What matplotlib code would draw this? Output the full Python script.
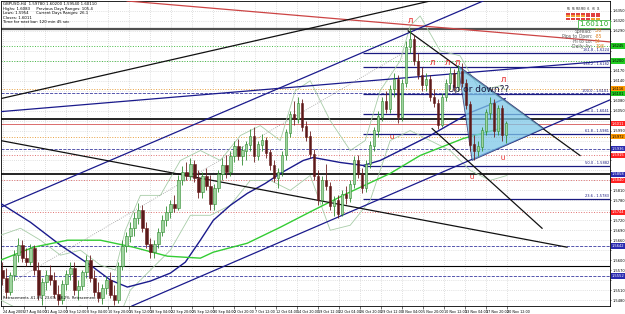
import numpy as np
import matplotlib
matplotlib.use("Agg")
import matplotlib.pyplot as plt
from matplotlib.patches import Polygon
from matplotlib.transforms import blended_transform_factory

# -------- candle data (H4 bars, price in 1e-4 units) --------
open_pts = [15570, 15546, 15504, 15555, 15615, 15645, 15606, 15594, 15636, 15570,
            15495, 15534, 15555, 15540, 15498, 15480, 15528, 15558, 15576, 15510,
            15522, 15564, 15600, 15546, 15504, 15486, 15516, 15540, 15495, 15480,
            15582, 15642, 15672, 15696, 15726, 15750, 15696, 15648, 15624, 15648,
            15684, 15720, 15744, 15768, 15756, 15840, 15864, 15852, 15888, 15846,
            15804, 15852, 15822, 15768, 15816, 15858, 15885, 15864, 15912, 15942,
            15912, 15930, 15948, 15972, 15912, 15948, 15960, 15924, 15885, 15846,
            15864, 15915, 15984, 16038, 16026, 16074, 16002, 15972, 15918, 15852,
            15780, 15840, 15822, 15762, 15780, 15738, 15798, 15786, 15828, 15900,
            15858, 15816, 15888, 15945, 15990, 16032, 16080, 16056, 16116, 16146,
            16032, 16134, 16242, 16266, 16200, 16158, 16128, 16146, 16092, 16074,
            16008, 16092, 16134, 16164, 16122, 16170, 16134, 16068, 15948, 15930,
            15942, 15990, 16044, 16074, 15990, 16056, 15978]
high_pts = [15594, 15576, 15564, 15630, 15666, 15660, 15636, 15648, 15645, 15594,
            15546, 15570, 15585, 15564, 15525, 15540, 15570, 15594, 15594, 15540,
            15570, 15615, 15615, 15570, 15534, 15528, 15552, 15564, 15525, 15594,
            15660, 15684, 15714, 15744, 15771, 15765, 15714, 15666, 15660, 15696,
            15735, 15762, 15780, 15795, 15855, 15882, 15894, 15906, 15900, 15870,
            15864, 15876, 15855, 15828, 15870, 15906, 15915, 15930, 15960, 15966,
            15945, 15960, 15996, 16002, 15960, 15981, 15972, 15936, 15900, 15876,
            15930, 15996, 16050, 16080, 16092, 16086, 16020, 15990, 15936, 15870,
            15852, 15888, 15834, 15792, 15795, 15810, 15822, 15840, 15912, 15915,
            15876, 15900, 15960, 16002, 16050, 16092, 16110, 16128, 16164, 16158,
            16146, 16260, 16296, 16278, 16224, 16182, 16164, 16158, 16116, 16086,
            16104, 16146, 16182, 16176, 16188, 16194, 16146, 16080, 15978, 15960,
            16002, 16056, 16092, 16086, 16068, 16068, 16020]
low_pts = [15525, 15486, 15495, 15540, 15594, 15594, 15582, 15585, 15555, 15480,
           15465, 15510, 15525, 15486, 15465, 15468, 15510, 15540, 15495, 15480,
           15510, 15546, 15534, 15492, 15474, 15468, 15498, 15486, 15465, 15471,
           15570, 15624, 15654, 15672, 15708, 15684, 15636, 15606, 15606, 15636,
           15672, 15702, 15726, 15744, 15750, 15825, 15840, 15840, 15834, 15786,
           15786, 15810, 15750, 15750, 15804, 15840, 15846, 15852, 15894, 15900,
           15885, 15900, 15930, 15894, 15900, 15930, 15906, 15870, 15834, 15816,
           15852, 15900, 15972, 16008, 16014, 15990, 15960, 15906, 15840, 15765,
           15768, 15810, 15750, 15732, 15726, 15732, 15768, 15774, 15816, 15846,
           15801, 15804, 15876, 15930, 15972, 16020, 16044, 16044, 16092, 16014,
           16020, 16122, 16224, 16188, 16146, 16110, 16110, 16080, 16062, 15996,
           16002, 16080, 16116, 16110, 16110, 16122, 16056, 15930, 15900, 15912,
           15930, 15978, 16026, 15972, 15978, 15960, 15954]
close_pts = [15546, 15504, 15555, 15615, 15645, 15606, 15594, 15636, 15570, 15495,
             15534, 15555, 15540, 15498, 15480, 15528, 15558, 15576, 15510, 15522,
             15564, 15600, 15546, 15504, 15486, 15516, 15540, 15495, 15480, 15582,
             15642, 15672, 15696, 15726, 15750, 15696, 15648, 15624, 15648, 15684,
             15720, 15744, 15768, 15756, 15840, 15864, 15852, 15888, 15846, 15804,
             15852, 15822, 15768, 15816, 15858, 15885, 15864, 15912, 15942, 15912,
             15930, 15948, 15972, 15912, 15948, 15960, 15924, 15885, 15846, 15864,
             15915, 15984, 16038, 16026, 16074, 16002, 15972, 15918, 15852, 15780,
             15840, 15822, 15762, 15780, 15738, 15798, 15786, 15828, 15900, 15858,
             15816, 15888, 15945, 15990, 16032, 16080, 16056, 16116, 16146, 16032,
             16134, 16242, 16266, 16200, 16158, 16128, 16146, 16092, 16074, 16008,
             16092, 16134, 16164, 16122, 16170, 16134, 16068, 15948, 15930, 15942,
             15990, 16044, 16074, 15990, 16056, 15978, 16011]

# -------- indicators (bar index, price) --------
ma_blue_bar = [-0.5, 7, 14.5, 22, 27, 31.25, 37, 42, 45.75, 49.5, 52.75, 57, 61.25,
               65.75, 69.5, 75.25, 77.75, 84.5, 90.25, 94.5, 99.5, 107, 117, 125.75]
ma_blue_val = [1.5771, 1.5714, 1.5645, 1.5585, 1.5540, 1.5519, 1.5537, 1.5561, 1.5594,
               1.5660, 1.5720, 1.5765, 1.5801, 1.5831, 1.5861, 1.5900, 1.5909, 1.5894,
               1.5885, 1.5900, 1.5930, 1.5975, 1.6044, 1.6086]
ma_green_bar = [-0.5, 7.75, 16.25, 24.5, 32.75, 41.25, 49.5, 52.75, 61.25, 69.5,
                77.75, 86.25, 97, 104.5, 115.25, 124.5]
ma_green_val = [1.5600, 1.5639, 1.5660, 1.5660, 1.5639, 1.5612, 1.5606, 1.5624, 1.5651,
                1.5699, 1.5750, 1.5801, 1.5861, 1.5915, 1.5966, 1.5996]
bb_up_bar = [-0.5, 4.5, 9.5, 14.5, 19.5, 24.5, 28.25, 30.75, 34.5, 39.5, 44.5, 49.5,
             54.5, 59.5, 64.5, 69.5, 73.25, 77, 82, 87, 90.75, 94.5, 99.5, 102, 104.5,
             109.5, 114.5, 119.5, 124.5, 126.25]
bb_up_val = [1.5675, 1.5696, 1.5660, 1.5615, 1.5630, 1.5585, 1.5570, 1.5690, 1.5795,
             1.5795, 1.5900, 1.5930, 1.5900, 1.5975, 1.6005, 1.5960, 1.6110, 1.6140,
             1.6020, 1.5930, 1.5960, 1.6110, 1.6200, 1.6305, 1.6335, 1.6230, 1.6215,
             1.6110, 1.6125, 1.6110]
bb_lo_bar = [-0.5, 4.5, 9.5, 14.5, 19.5, 24.5, 29.5, 32, 37, 42, 47, 52, 57, 62, 67,
             72, 77, 82, 87, 92, 97, 102, 107, 112, 117, 122, 126.25]
bb_lo_val = [1.5480, 1.5450, 1.5438, 1.5450, 1.5462, 1.5444, 1.5438, 1.5510, 1.5570,
             1.5630, 1.5735, 1.5735, 1.5765, 1.5840, 1.5840, 1.5810, 1.5855, 1.5690,
             1.5705, 1.5780, 1.5960, 1.5990, 1.5960, 1.5930, 1.5870, 1.5840, 1.5855]

# -------- drawn objects --------
# infinite trendlines: (bar1, price1, bar2, price2, colour, width)
rays = [
    (41, 1.6370, 146, 1.6263, "#cc4444", 0.9),
    (-0.5, 1.6086, 107, 1.6380, "#111111", 0.9),
    (-0.5, 1.6047, 145.75, 1.6194, "#1a1a8c", 0.9),
    (-0.5, 1.5759, 120.25, 1.6380, "#1a1a8c", 0.9),
    (27.75, 1.5438, 145.75, 1.6050, "#1a1a8c", 0.9),
]
segments = [
    (-0.5, 1.5960, 141.25, 1.5639, "#111111", 0.9, "-"),
    (101.5, 1.6290, 144.5, 1.5915, "#111111", 0.9, "-"),
    (107.5, 1.5996, 135, 1.5696, "#111111", 0.9, "-"),
    (2, 1.5531, 102, 1.6236, "#999999", 0.6, ":"),
]
triangle_bar = [114, 117.5, 135.5]
triangle_val = [1.6185, 1.5900, 1.5996]

# full width levels: price, colour, style, width
levels = [
    (1.6296, "#505050", "-", 1.6), (1.6245, "#44bb44", ":", 0.7),
    (1.6200, "#44bb44", ":", 0.7), (1.6116, "#e8a040", ":", 0.7),
    (1.6104, "#3a3aa0", "--", 0.6), (1.6026, "#000000", "-", 1.2),
    (1.6011, "#cc3333", "-", 0.5), (1.5972, "#e8a040", ":", 0.7),
    (1.5936, "#3a3aa0", "--", 0.6), (1.5915, "#e07070", ":", 0.7),
    (1.5858, "#000000", "-", 1.2), (1.5840, "#e07070", ":", 0.7),
    (1.5744, "#e07070", ":", 0.7), (1.5642, "#3a3aa0", "--", 0.6),
    (1.5582, "#000000", "-", 0.8), (1.5552, "#3a3aa0", "--", 0.6),
]
fib_start = 90.25
fib_vals = [1.6224, 1.6182, 1.6101, 1.6041, 1.5981, 1.5882, 1.5783]
fib_names = ["161.8", "138.2", "100.0", "76.4", "61.8", "50.0", "23.6"]

axis_boxes = [
    (1.6245, "#22cc22", "black"), (1.6200, "#22cc22", "black"),
    (1.6116, "#ff9900", "black"), (1.6101, "#22cc22", "black"),
    (1.6011, "#ff2020", "white"), (1.5972, "#ff9900", "black"),
    (1.5936, "#2a2ab0", "white"), (1.5915, "#ff2020", "white"),
    (1.5858, "#2a2ab0", "white"), (1.5840, "#ff2020", "white"),
    (1.5744, "#ff2020", "white"), (1.5642, "#2a2ab0", "white"),
    (1.5552, "#2a2ab0", "white"),
]

frac_up_bar = [102, 107.5, 111.25, 113.75, 125.25]
frac_up_val = [1.6320, 1.6194, 1.6194, 1.6194, 1.6143]
frac_dn_bar = [97.5, 117.5, 125.25]
frac_dn_val = [1.5969, 1.5849, 1.5906]

date_labels = ["24 Aug 2009", "27 Aug 04:00", "31 Aug 12:00", "3 Sep 12:00", "8 Sep 04:00",
               "10 Sep 20:00", "15 Sep 12:00", "18 Sep 04:00", "22 Sep 20:00", "25 Sep 12:00",
               "30 Sep 04:00", "2 Oct 20:00", "7 Oct 12:00", "12 Oct 04:00", "14 Oct 20:00",
               "19 Oct 12:00", "22 Oct 04:00", "26 Oct 20:00", "29 Oct 12:00", "3 Nov 04:00",
               "5 Nov 20:00", "10 Nov 12:00", "13 Nov 04:00", "17 Nov 20:00", "20 Nov 12:00"]

tf_names = ["M1", "M5", "M15", "M30", "H1", "H4", "D1"]
signal_rows = [
    ["#e04040"] * 7,
    ["#f0a030"] * 4 + ["#e04040"] * 3,
    ["#e04040"] * 5 + ["#f0a030"] * 2,
]

header_lines = [
    "GBPUSD,H4  1.59780 1.60200 1.59540 1.60110",
    "Highs: 1.6083     Previous Days Ranges: 105.4",
    "Lows: 1.5954      Current Days Ranges: 26.1",
    "Closes: 1.6011",
    "Time for next bar: 120 min 45 sec",
]
info_names = ["Spread:", "Pips to Open:", "Hi to Lo:", "Daily Av:"]
info_vals = ["3.0", "-85", "54", "108"]

# -------- figure --------
fig = plt.figure(figsize=(6.25, 3.14), dpi=100)
ax = fig.add_axes([0.5 / 625, 8 / 314, 609.5 / 625, 305 / 314])
ax.set_facecolor("white")

o = np.array(open_pts) / 1e4
h = np.array(high_pts) / 1e4
l = np.array(low_pts) / 1e4
c = np.array(close_pts) / 1e4
idx = np.arange(len(c))
up = c >= o
col = np.where(up, "#2e8b2e", "#6b1f1f")

ax.vlines(idx, l, h, colors=col, lw=0.6, zorder=4)
ax.bar(idx, np.abs(c - o) + 0.00005, bottom=np.minimum(o, c), width=0.6,
       color=np.where(up, "#9fd49f", "#5a1a1a"), edgecolor=col, lw=0.4, zorder=5)

# bands / moving averages
ax.plot(bb_up_bar, bb_up_val, color="#a8cca8", lw=0.6, zorder=3)
ax.plot(bb_lo_bar, bb_lo_val, color="#a8cca8", lw=0.6, zorder=3)
ax.plot(ma_blue_bar, ma_blue_val, color="#1a1a8c", lw=1.0, zorder=3)
ax.plot(ma_green_bar, ma_green_val, color="#33cc33", lw=1.0, zorder=3)

xmax = 152.0
# levels
for price, colr, ls, lw in levels:
    ax.axhline(price, color=colr, ls=ls, lw=lw, zorder=2)
for price, name in zip(fib_vals, fib_names):
    ax.hlines(price, fib_start, xmax, color="#1a1a80", lw=0.9, zorder=2)
    ax.text(xmax - 0.3, price + 0.0003, f"{name} - {price:.4f}", fontsize=2.6,
            color="#1a1a80", ha="right", va="bottom", zorder=6)

# trendlines
for b1, p1, b2, p2, colr, lw in rays:
    ax.axline((b1, p1), (b2, p2), color=colr, lw=lw, zorder=3)
for b1, p1, b2, p2, colr, lw, ls in segments:
    ax.plot([b1, b2], [p1, p2], color=colr, lw=lw, ls=ls, zorder=3)

tri = Polygon(list(zip(triangle_bar, triangle_val)), closed=True, facecolor="#7ec8e8",
              edgecolor="#1a1a60", lw=0.6, alpha=0.75, zorder=3.5)
ax.add_patch(tri)

for b, p in zip(frac_up_bar, frac_up_val):
    ax.text(b, p, "\u041b", color="#e00000", fontsize=5, ha="center", va="center", zorder=7)
for b, p in zip(frac_dn_bar, frac_dn_val):
    ax.text(b, p, "U", color="#e00000", fontsize=4.5, ha="center", va="center", zorder=7)

ax.text(111.5, 1.6114, "Up or down??", fontsize=6.5, color="#1a1a40", ha="left",
        va="center", zorder=8)

# axes formatting
ax.set_xlim(-0.5, xmax)
ax.set_ylim(1.5462, 1.6380)
xt = np.arange(len(date_labels)) * 5.25 + 0.25
ax.set_xticks(xt)
ax.set_xticklabels(date_labels, fontsize=2.4, ha="left")
box_prices = np.array([b[0] for b in axis_boxes])
yt = np.arange(1.5480, 1.6380, 0.0030)
ax.set_yticks(yt)
ax.set_yticklabels([f"{v:.4f}" if np.abs(box_prices - v).min() > 0.0016 else ""
                    for v in yt], fontsize=2.6)
ax.yaxis.tick_right()
ax.tick_params(axis="x", length=2, pad=0.8, width=0.4)
ax.tick_params(axis="y", length=1.0, pad=0.6, width=0.4)
ax.grid(True, color="#c4c4c4", ls=(0, (1, 2)), lw=0.5, zorder=0)
for s in ax.spines.values():
    s.set_linewidth(0.6)

trans = blended_transform_factory(ax.transAxes, ax.transData)
for price, fc, tc in axis_boxes:
    ax.text(1.0025, price, f"{price:.4f}", transform=trans, fontsize=2.6, color=tc,
            ha="left", va="center", clip_on=False, zorder=10,
            bbox=dict(boxstyle="square,pad=0.2", fc=fc, ec="none"))

# header text
for k, line in enumerate(header_lines):
    fig.text(3 / 625, 1 - (4 + 4.6 * k) / 314, line, fontsize=2.8, color="black",
             ha="left", va="center")
fig.text(3 / 625, 16 / 314, "Retracements -61.8%  23.6%  38.2%  Retracement",
         fontsize=2.6, color="black", ha="left", va="center")

# signal panel top right
cw, ch = 5.0, 2.6
x0, y0 = 566, 12
for j, name in enumerate(tf_names):
    fig.text((x0 + cw * j + cw / 2) / 625, 1 - 8.5 / 314, name, fontsize=1.9,
             ha="center", va="center", color="#333333")
for r, row in enumerate(signal_rows):
    for j, colr in enumerate(row):
        fig.patches.append(plt.Rectangle(((x0 + cw * j) / 625, 1 - (y0 + ch * (r + 1)) / 314),
                                         (cw - 0.6) / 625, (ch - 0.5) / 314,
                                         transform=fig.transFigure, fc=colr, ec="none",
                                         zorder=10))
fig.text(594 / 625, 1 - 24 / 314, "1.60110", fontsize=5, color="#22aa22", ha="center",
         va="center", zorder=11,
         bbox=dict(boxstyle="square,pad=0.15", fc="white", ec="#22aa22", lw=0.5))
for k, (name, val) in enumerate(zip(info_names, info_vals)):
    yy = 1 - (31 + 5.2 * k) / 314
    fig.text(592 / 625, yy, name, fontsize=3.3, color="#606060", ha="right", va="center",
             zorder=11)
    fig.text(595 / 625, yy, val, fontsize=3.3, color="#e08020", ha="left", va="center",
             zorder=11)

fig.savefig("out.png", dpi=100)
plt.close(fig)
